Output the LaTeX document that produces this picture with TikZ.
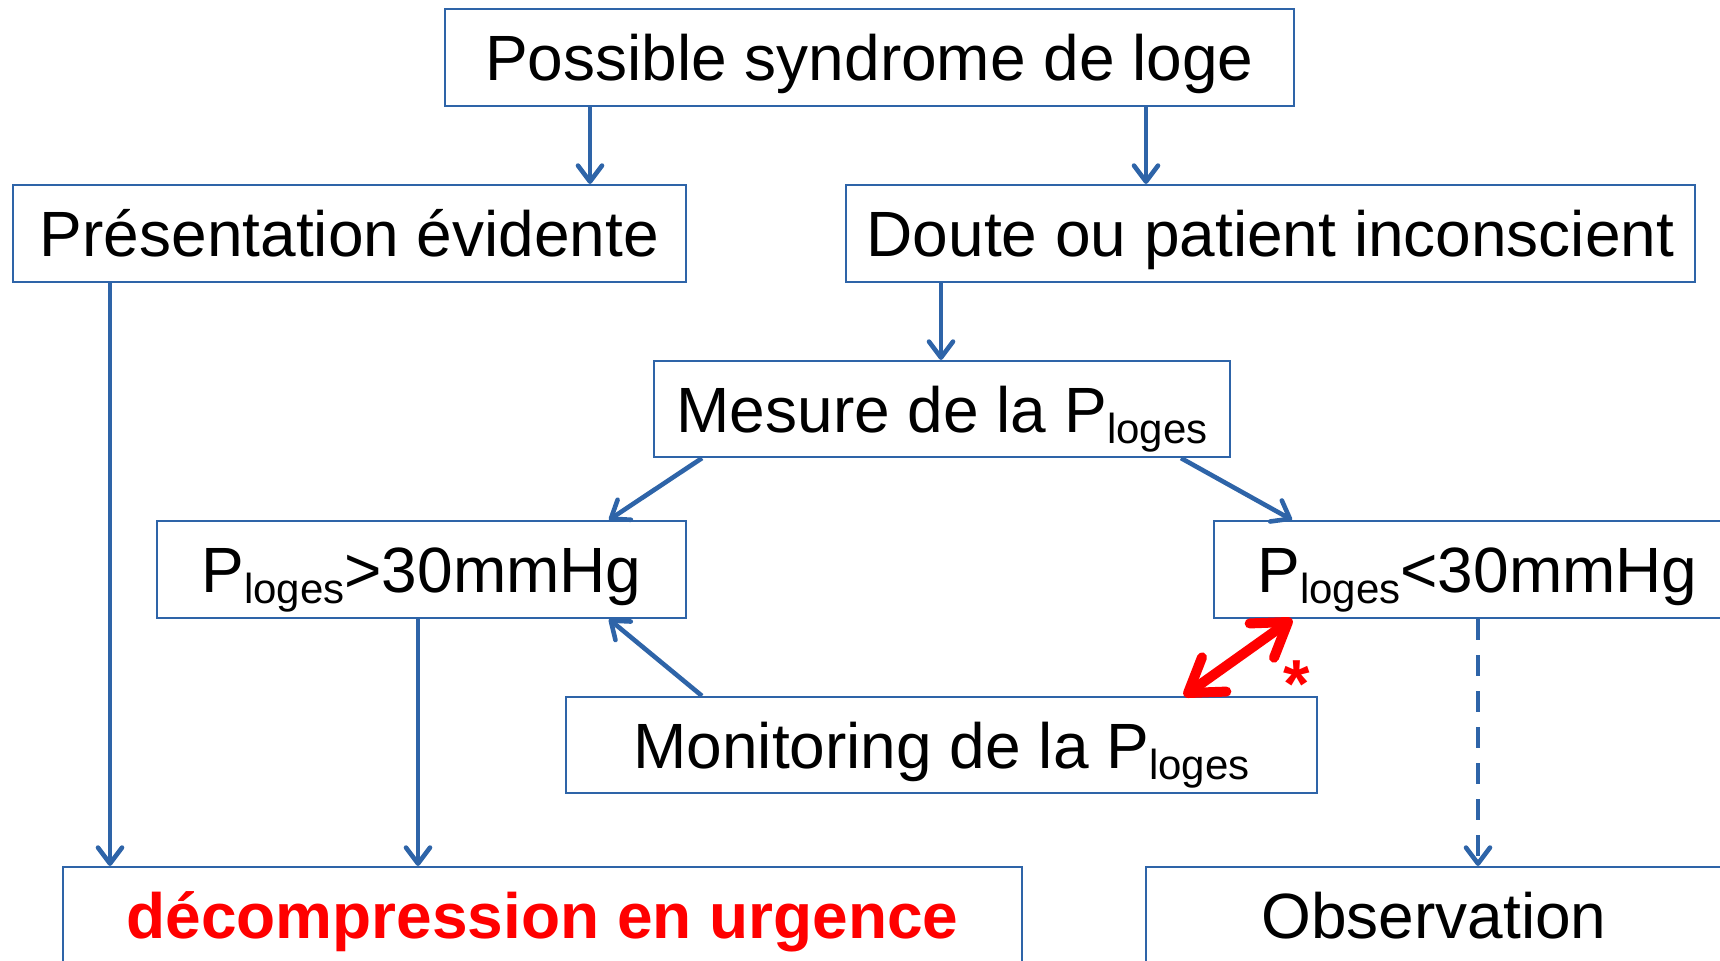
\documentclass[tikz,border=0pt]{standalone}
\usepackage{fontspec}
\setmainfont{Liberation Sans}
\usetikzlibrary{arrows.meta}

\definecolor{lineblue}{RGB}{46,100,168}
\definecolor{alertred}{RGB}{255,0,0}

% pressure symbol with its "loges" subscript
\newcommand{\Ploges}{P\raisebox{-5.5pt}{\fontsize{21}{21}\selectfont loges}}

\tikzset{
  box/.style={draw=lineblue, line width=1.1pt, inner sep=0pt,
    text height=23pt, text depth=0pt,
    font=\fontsize{32}{38}\selectfont, anchor=center},
  arr/.style={draw=lineblue, line width=2.3pt,
    -{Straight Barb[length=8pt,width=12pt,round]}},
  dasharr/.style={arr, dash pattern=on 10.5pt off 7.5pt},
  redarr/.style={draw=alertred, line width=5pt, line cap=round,
    {Straight Barb[length=16pt,width=21pt,round]}-{Straight Barb[length=16pt,width=21pt,round]}},
}

\begin{document}
\begin{tikzpicture}[x=0.5pt,y=-0.5pt]
  \useasboundingbox (0,0) rectangle (1720,960);
  \clip (0,0) rectangle (1720,960);

  % boxes
  \node[box, minimum width=424.5pt, minimum height=48.5pt] (top)  at (869.5,57.5)  {Possible syndrome de loge};
  \node[box, minimum width=336.5pt, minimum height=48.5pt] (pres) at (349.5,233.5) {Présentation évidente};
  \node[box, minimum width=424.5pt, minimum height=48.5pt] (doute) at (1270.5,233.5) {Doute ou patient inconscient};
  \node[box, minimum width=288pt,   minimum height=48pt]   (mes)  at (942,409)     {Mesure de la \Ploges};
  \node[box, minimum width=264.5pt, minimum height=48.5pt] (hi)   at (421.5,569.5) {\Ploges>30mmHg};
  \node[box, minimum width=263.5pt, minimum height=48.5pt] (lo)   at (1477.5,569.5) {\Ploges<30mmHg};
  \node[box, minimum width=375.5pt, minimum height=48pt]   (mon)  at (941.5,745)   {Monitoring de la \Ploges};
  \node[box, minimum width=479.5pt, minimum height=48.5pt, text=alertred, font=\bfseries\fontsize{32}{38}\selectfont] (dec) at (542.5,915.5) {décompression en urgence};
  \node[box, minimum width=288pt,   minimum height=48.5pt] (obs)  at (1434,915.5)  {Observation};

  % connectors
  \draw[arr] (top.south -| 590,0)  -- (pres.north -| 590,0);
  \draw[arr] (top.south -| 1146,0) -- (doute.north -| 1146,0);
  \draw[arr] (doute.south -| 941,0) -- (mes.north -| 941,0);
  \draw[arr] (mes.south -| 702,0)  -- (hi.north -| 609,0);
  \draw[arr] (mes.south -| 1181,0) -- (lo.north -| 1292,0);
  \draw[arr] (mon.north -| 702,0)  -- (hi.south -| 609,0);
  \draw[arr] (pres.south -| 110,0) -- (dec.north -| 110,0);
  \draw[arr] (hi.south -| 418,0)   -- (dec.north -| 418,0);
  \draw[dasharr] (lo.south -| 1478,0) -- (obs.north -| 1478,0);
  \draw[redarr] (mon.north -| 1184,0) -- (lo.south -| 1292,0);

  \node[text=alertred, font=\bfseries\fontsize{34}{34}\selectfont, anchor=base, inner sep=0pt] (star) at (1297,707) {*};
\end{tikzpicture}
\end{document}
